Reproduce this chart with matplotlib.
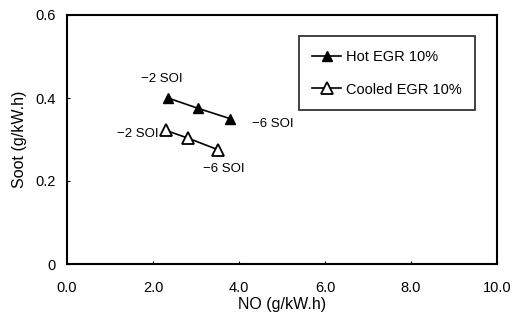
import matplotlib
matplotlib.use("Agg")
import matplotlib.pyplot as plt

plt.rcParams['font.family'] = ['Liberation Sans', 'DejaVu Sans']

hot_no = [2.35, 3.05, 3.8]
hot_soot = [0.40, 0.375, 0.35]
cool_no = [2.3, 2.82, 3.52]
cool_soot = [0.322, 0.303, 0.275]
xticks = [0, 2, 4, 6, 8, 10]
xticklabels = ['0.0', '2.0', '4.0', '6.0', '8.0', '10.0']
yticks = [0, 0.2, 0.4, 0.6]
yticklabels = ['0', '0.2', '0.4', '0.6']

fig = plt.figure(figsize=(5.13, 3.2), dpi=100)
ax = fig.add_axes([67/513, 56/320, 430/513, 249/320])

ax.plot(hot_no, hot_soot, color='black', lw=1.2, marker='^', ms=7,
        mfc='black', mec='black', label='Hot EGR 10%')
ax.plot(cool_no, cool_soot, color='black', lw=1.2, marker='^', ms=8,
        mfc='white', mec='black', mew=1.3, label='Cooled EGR 10%')

ax.text(hot_no[0] - 0.15, hot_soot[0] + 0.045, '\u22122 SOI', fontsize=9.5, ha='center', va='center')
ax.text(hot_no[-1] + 0.5, hot_soot[-1] - 0.012, '\u22126 SOI', fontsize=9.5, ha='left', va='center')
ax.text(cool_no[0] - 0.65, cool_soot[0] - 0.008, '\u22122 SOI', fontsize=9.5, ha='center', va='center')
ax.text(cool_no[-1] + 0.12, cool_soot[-1] - 0.047, '\u22126 SOI', fontsize=9.5, ha='center', va='center')

ax.set_xlim(0, 10)
ax.set_ylim(0, 0.6)
ax.set_xticks(xticks)
ax.set_xticklabels(xticklabels)
ax.set_yticks(yticks)
ax.set_yticklabels(yticklabels)
ax.tick_params(direction='in', length=2, labelsize=10.5)
ax.tick_params(axis='x', pad=12)
ax.tick_params(axis='y', pad=8)
for s in ax.spines.values():
    s.set_linewidth(1.5)

ax.set_xlabel('NO (g/kW.h)', fontsize=11.5, labelpad=2)
ax.set_ylabel('Soot (g/kW.h)', fontsize=11.5, labelpad=6)

leg = ax.legend(loc='upper right', bbox_to_anchor=(0.965, 0.943), fontsize=10.5,
                frameon=True, fancybox=False, edgecolor='black',
                handlelength=2.0, handletextpad=0.3, labelspacing=1.3,
                borderpad=0.9)
leg.get_frame().set_linewidth(1.3)

fig.savefig('out.png', dpi=100)
